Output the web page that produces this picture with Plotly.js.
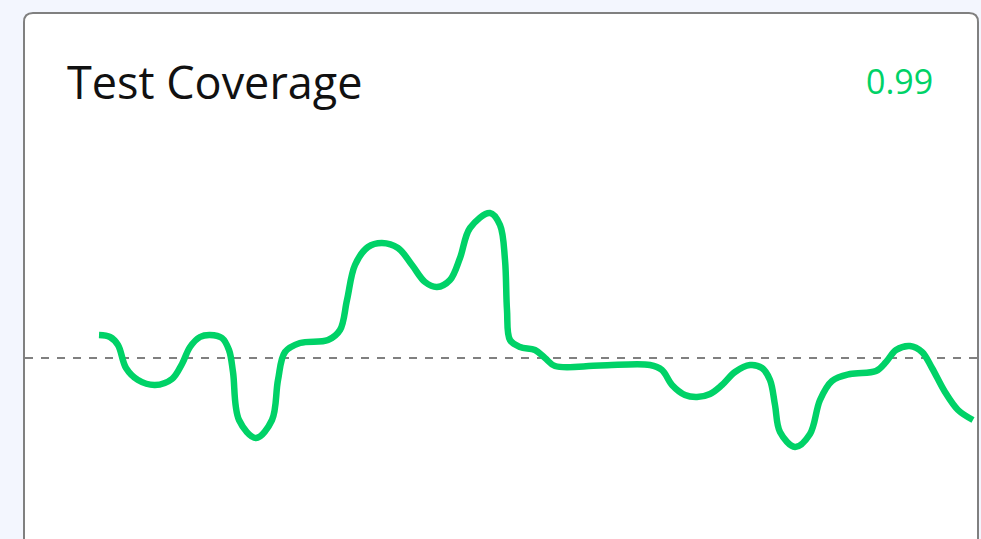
<!DOCTYPE html>
<html>
<head>
<meta charset="utf-8">
<script src="https://cdn.plot.ly/plotly-3.0.1.min.js"></script>
<style>
  html, body { margin: 0; padding: 0; background: #f3f6fe; overflow: hidden; }
  #chart { width: 981px; height: 539px; }
</style>
</head>
<body>
<div id="chart"></div>
<script>
// ---- data ----
const chartTitle = "Test Coverage";
const currentValueLabel = "0.99";
const targetCoverage = 0.97;           // dashed reference line
const t = [0, 11, 19, 27, 39, 56, 73, 83, 91, 101, 111, 123, 130, 134, 140, 157, 173, 179, 186, 201,
           229, 241, 248, 256, 269, 283, 299, 313, 326, 338, 351, 361, 371, 391, 401, 406, 408, 411, 421, 436,
           446, 456, 501, 551, 563, 573, 586, 598, 611, 623, 636, 651, 663, 671, 676, 681, 696, 711, 721, 733,
           751, 777, 787, 797, 811, 823, 833, 846, 859, 874];
const coverage = [0.9746, 0.9742, 0.9726, 0.9680, 0.9656, 0.9646, 0.9658, 0.9688, 0.9722, 0.9742,
                  0.9746, 0.9740, 0.9716, 0.9672, 0.9576, 0.9540, 0.9576, 0.9656, 0.9712, 0.9730,
                  0.9736, 0.9756, 0.9816, 0.9886, 0.9922, 0.9930, 0.9920, 0.9886, 0.9852, 0.9842,
                  0.9856, 0.9900, 0.9960, 0.9990, 0.9966, 0.9896, 0.9796, 0.9736, 0.9722, 0.9716,
                  0.9700, 0.9684, 0.9685, 0.9686, 0.9676, 0.9646, 0.9626, 0.9622, 0.9628, 0.9646,
                  0.9672, 0.9686, 0.9680, 0.9656, 0.9606, 0.9552, 0.9522, 0.9548, 0.9616, 0.9654,
                  0.9668, 0.9674, 0.9692, 0.9716, 0.9724, 0.9712, 0.9680, 0.9632, 0.9596, 0.9576];

// ---- styling ----
const W = 981, H = 539;
const green = "#00d267";
const px = v => v / W, py = v => 1 - v / H;
const L = px(24), R = px(978), T = py(13), B = py(600);
const rx = px(9), ry = 9 / H;
const cardPath = `M ${L},${B} L ${L},${T - ry} Q ${L},${T} ${L + rx},${T} L ${R - rx},${T} Q ${R},${T} ${R},${T - ry} L ${R},${B} Z`;

const trace = {
  x: t, y: coverage, type: "scatter", mode: "lines",
  line: { color: green, width: 6.5, shape: "spline", smoothing: 1 },
  hoverinfo: "skip"
};

const layout = {
  width: W, height: H,
  margin: { l: 0, r: 0, t: 0, b: 0, pad: 0 },
  paper_bgcolor: "#f3f6fe",
  plot_bgcolor: "rgba(0,0,0,0)",
  showlegend: false,
  xaxis: { visible: false, range: [-99, 882], fixedrange: true },
  yaxis: { visible: false, range: [0.9338, 1.0416], fixedrange: true },
  shapes: [
    { type: "path", xref: "paper", yref: "paper", path: cardPath,
      fillcolor: "#ffffff", line: { color: "#808080", width: 2 }, layer: "below" },
    { type: "line", xref: "paper", yref: "y", x0: px(25), x1: px(977), y0: targetCoverage, y1: targetCoverage,
      line: { color: "#808080", width: 2, dash: "8px,8px" }, layer: "below" }
  ],
  annotations: [
    { text: chartTitle, xref: "paper", yref: "paper", x: px(65), y: py(81), xanchor: "left", yanchor: "middle",
      showarrow: false, font: { family: "Open Sans", size: 45, color: "#111111" } },
    { text: currentValueLabel, xref: "paper", yref: "paper", x: px(935), y: py(81), xanchor: "right", yanchor: "middle",
      showarrow: false, font: { family: "Open Sans", size: 34, color: green } }
  ]
};

Plotly.newPlot("chart", [trace], layout, { displayModeBar: false, staticPlot: true });
</script>
</body>
</html>
